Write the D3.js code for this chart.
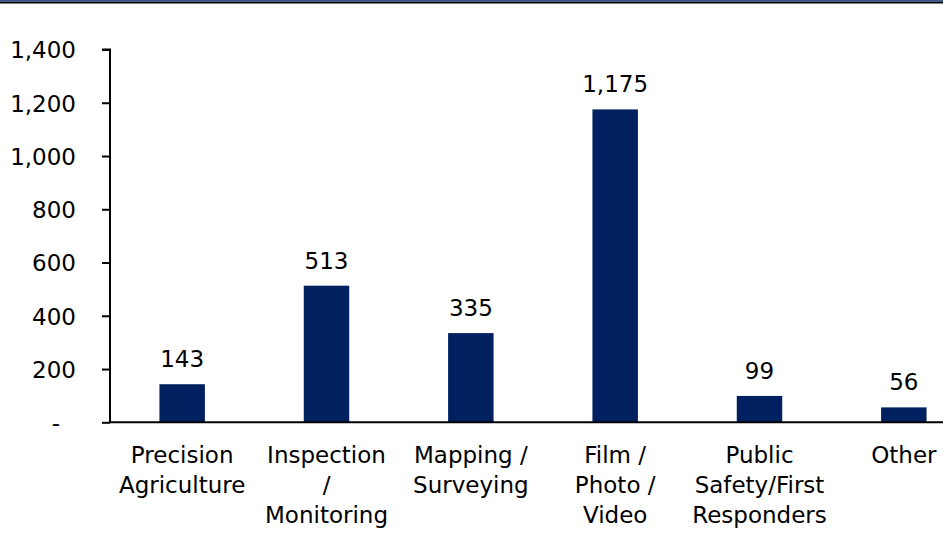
<!DOCTYPE html>
<html lang="en">
<head>
    <meta charset="UTF-8">
    <title>Drone use cases</title>
    <script src="https://d3js.org/d3.v7.min.js"></script>
    <style>
        body {
            margin: 0;
            background: #fff;
        }
        svg {
            display: block;
        }
    </style>
</head>
<body>
    <svg id="chart"></svg>

    <script>
        // data
        const categories = [
            ["Precision", "Agriculture"],
            ["Inspection", "/", "Monitoring"],
            ["Mapping /", "Surveying"],
            ["Film /", "Photo /", "Video"],
            ["Public", "Safety/First", "Responders"],
            ["Other"]
        ];
        const values = [143, 513, 335, 1175, 99, 56];
        const yTicks = [0, 200, 400, 600, 800, 1000, 1200, 1400];
        const yTickLabels = ["-", "200", "400", "600", "800", "1,000", "1,200", "1,400"];

        const width = 943;
        const height = 552;
        const font = "'DejaVu Sans', Verdana, sans-serif";
        const fontSize = "23px";

        const svg = d3.select("#chart")
                      .attr("width", width)
                      .attr("height", height);

        // header rule
        svg.append("rect").attr("x", 0).attr("y", 0).attr("width", width).attr("height", 2).attr("fill", "#3b5a8a");
        svg.append("rect").attr("x", 0).attr("y", 2).attr("width", width).attr("height", 1.5).attr("fill", "#000");

        const xScale = d3.scaleBand()
                         .domain(d3.range(values.length))
                         .range([110, 976])
                         .padding(0);

        const yScale = d3.scaleLinear()
                         .domain([0, 1400])
                         .range([422.3, 49.5]);

        const barW = xScale.bandwidth() * 0.315;

        // bars
        svg.selectAll(".bar")
           .data(values)
           .enter()
           .append("rect")
           .attr("class", "bar")
           .attr("x", (d, i) => xScale(i) + xScale.bandwidth() / 2 - barW / 2)
           .attr("y", d => yScale(d))
           .attr("width", barW)
           .attr("height", d => yScale(0) - yScale(d))
           .attr("fill", "#002060");

        // y axis
        const yAxis = d3.axisLeft(yScale)
                        .tickValues(yTicks)
                        .tickSize(8)
                        .tickPadding(26)
                        .tickFormat((d, i) => yTickLabels[i]);

        const gy = svg.append("g")
           .attr("transform", "translate(110,0)")
           .call(yAxis);
        gy.select(".domain").attr("stroke", "#000").attr("stroke-width", 2)
          .attr("d", `M-8,${yScale(1400)}H0V${yScale(0)}`);
        gy.selectAll(".tick line").attr("stroke", "#000").attr("stroke-width", 2);
        gy.selectAll(".tick text")
          .style("font-family", font)
          .style("font-size", fontSize)
          .attr("fill", "#000")
          .attr("dy", "0.36em")
          .attr("dx", d => d === 0 ? -16 : 0);

        // x axis line
        svg.append("line")
           .attr("x1", 110).attr("x2", width)
           .attr("y1", yScale(0)).attr("y2", yScale(0))
           .attr("stroke", "#000").attr("stroke-width", 2);

        // value labels
        svg.selectAll(".val")
           .data(values)
           .enter()
           .append("text")
           .attr("class", "val")
           .style("font-family", font)
           .style("font-size", fontSize)
           .attr("text-anchor", "middle")
           .attr("x", (d, i) => xScale(i) + xScale.bandwidth() / 2)
           .attr("y", d => yScale(d) - 17)
           .text(d => d3.format(",")(d));

        // category labels
        const cat = svg.selectAll(".cat")
           .data(categories)
           .enter()
           .append("text")
           .attr("class", "cat")
           .style("font-family", font)
           .style("font-size", fontSize)
           .attr("text-anchor", "middle")
           .attr("transform", (d, i) => `translate(${xScale(i) + xScale.bandwidth() / 2},463)`);

        cat.selectAll("tspan")
           .data(d => d)
           .enter()
           .append("tspan")
           .attr("x", 0)
           .attr("y", (d, j) => j * 29.8)
           .text(d => d);
    </script>
</body>
</html>
